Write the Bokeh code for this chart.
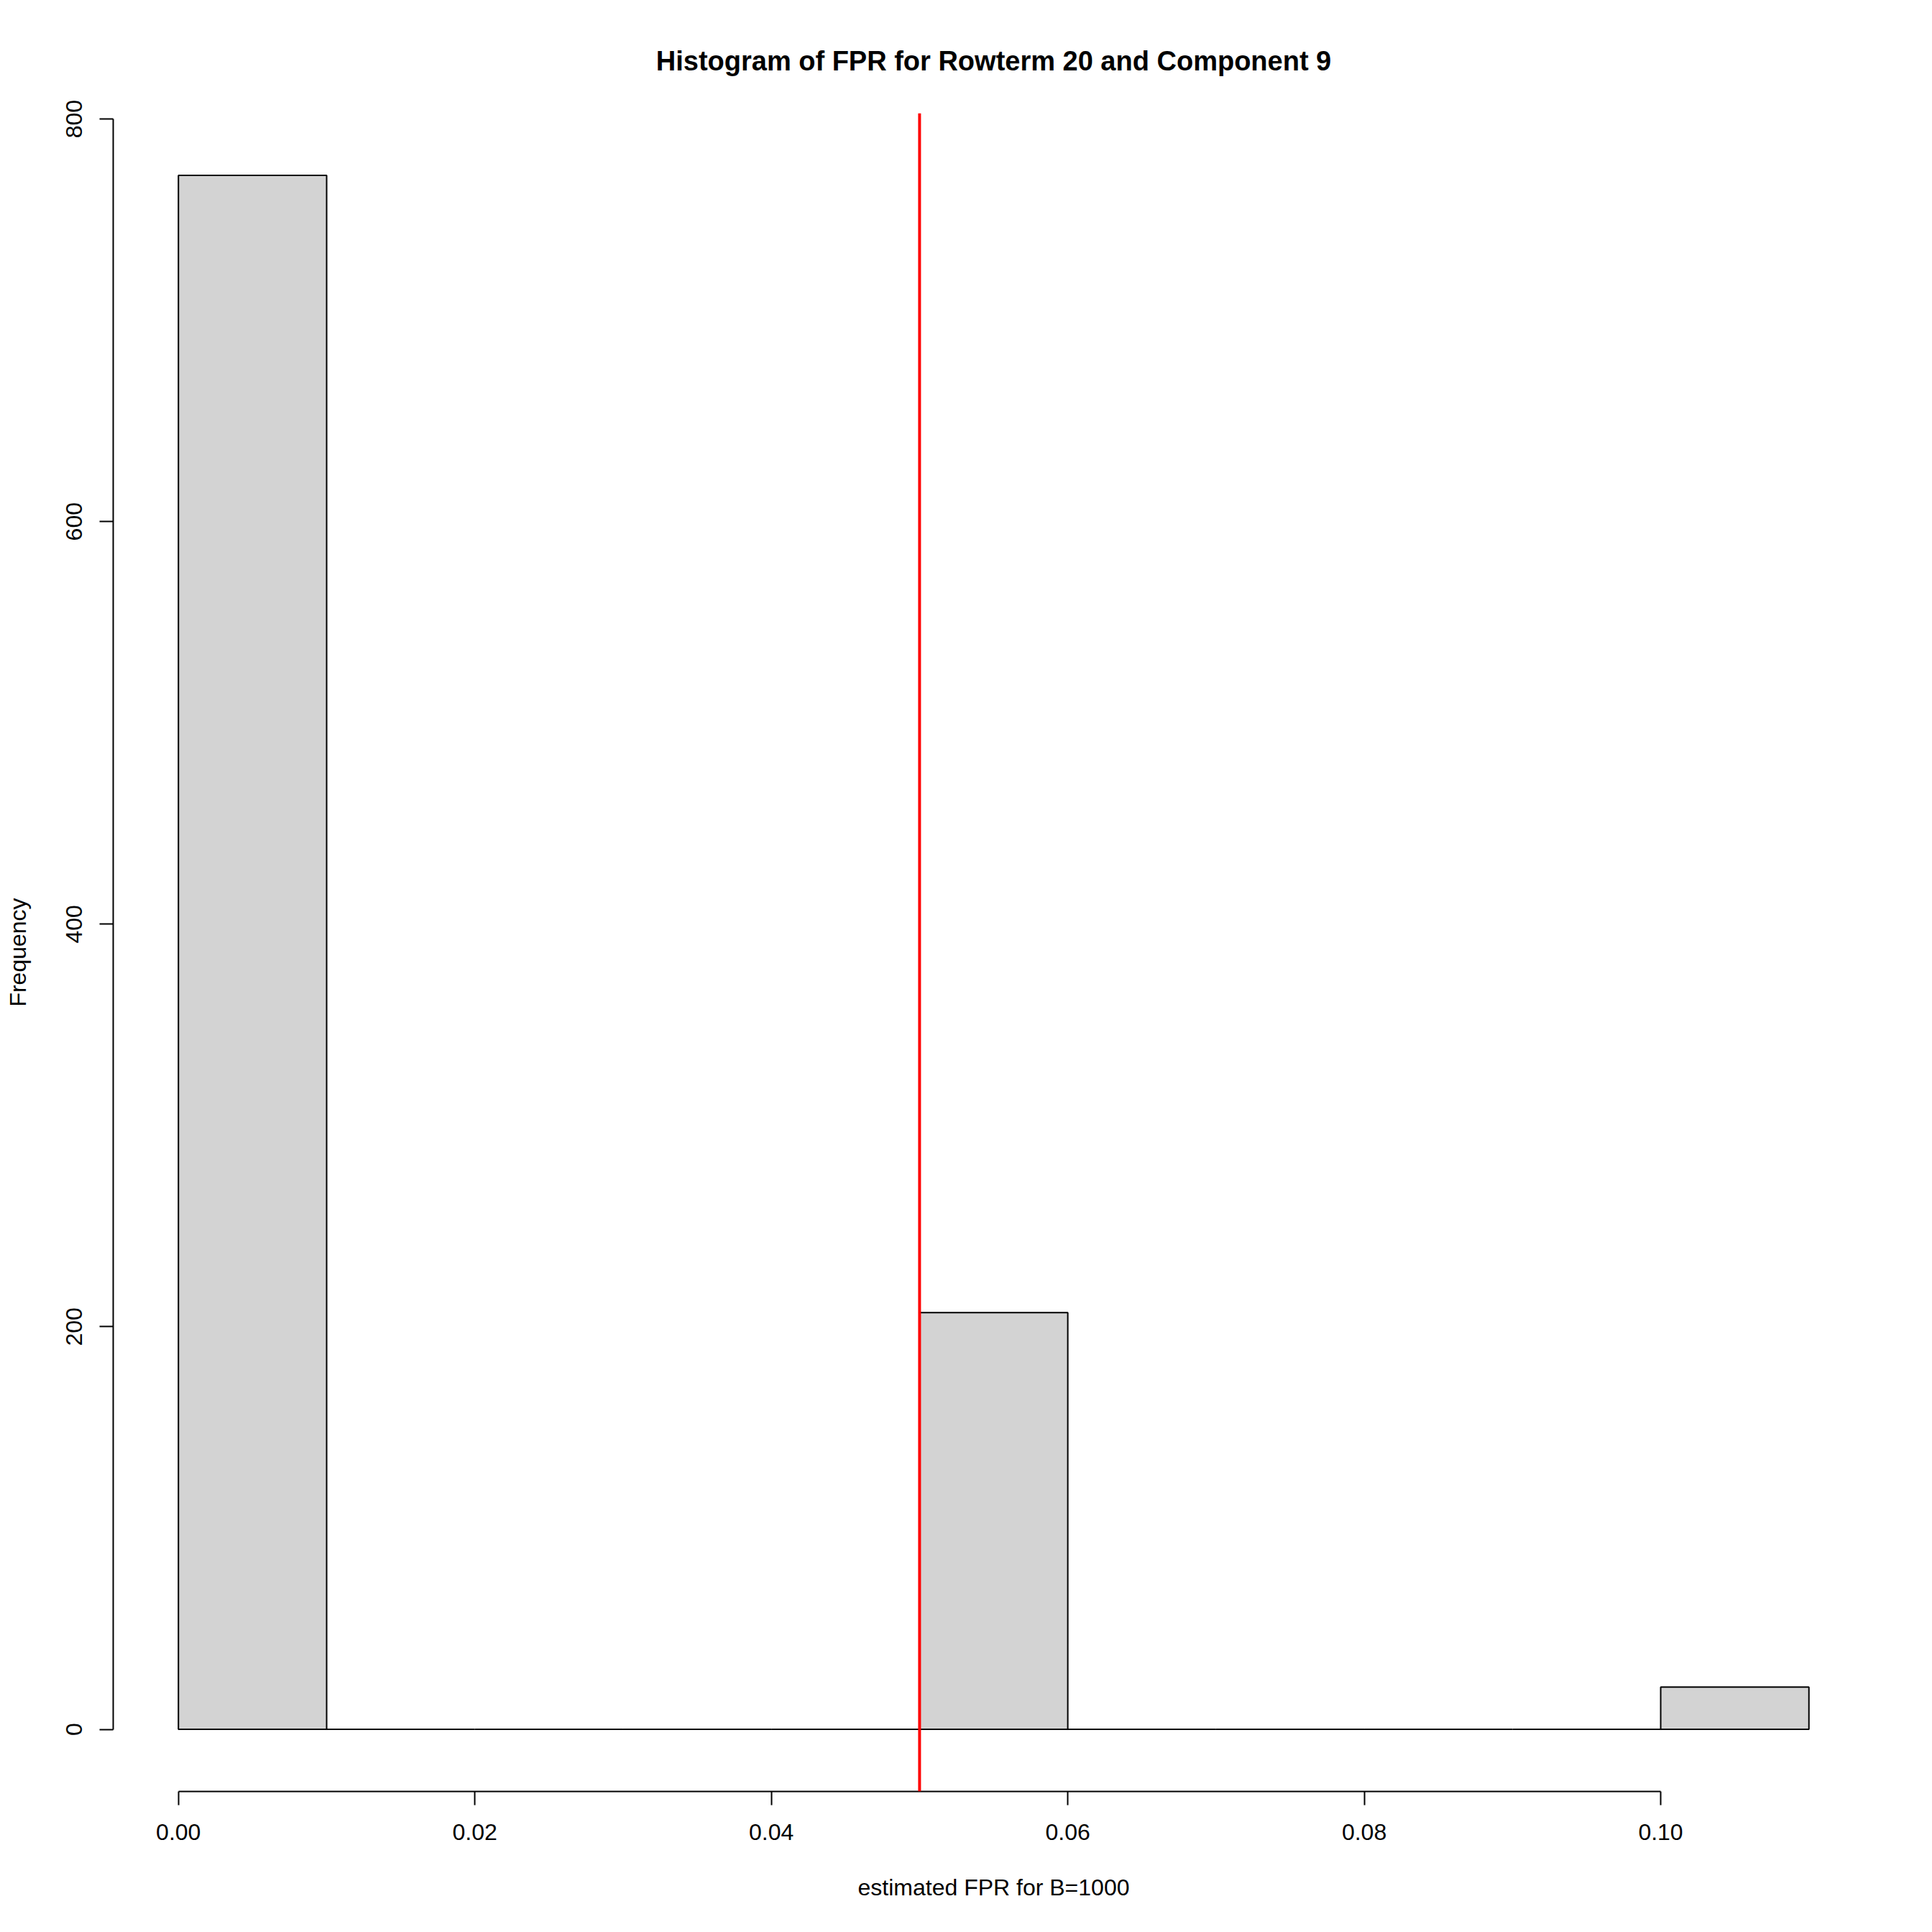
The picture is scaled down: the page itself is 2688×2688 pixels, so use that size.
from bokeh.plotting import figure
from bokeh.models import Span, FixedTicker, NumeralTickFormatter, Title
from bokeh.embed import file_html
from bokeh.resources import INLINE

# Data
bin_edges = [0.00, 0.01, 0.02, 0.03, 0.04, 0.05, 0.06, 0.07, 0.08, 0.09, 0.10, 0.11]
counts = [772, 0, 0, 0, 0, 207, 0, 0, 0, 0, 21]
threshold = 0.05
x_ticks = [0.00, 0.02, 0.04, 0.06, 0.08, 0.10]
y_ticks = [0, 200, 400, 600, 800]
title_text = "Histogram of FPR for Rowterm 20 and Component 9"
x_label = "estimated FPR for B=1000"
y_label = "Frequency"

FONT = "Liberation Sans"

# R-style 4% axis extension
xmin, xmax = bin_edges[0], bin_edges[-1]
ymin, ymax = 0, max(counts)
dx = (xmax - xmin) * 0.04
dy = (ymax - ymin) * 0.04

p = figure(
    width=2672, height=2672,
    x_range=(xmin - dx, xmax + dx),
    y_range=(ymin - dy, ymax + dy),
    output_backend="svg",
    toolbar_location=None,
    min_border_left=157, min_border_right=65,
    min_border_top=157, min_border_bottom=180,
)
p.background_fill_color = "white"
p.border_fill_color = "white"
p.outline_line_color = None
p.xgrid.visible = False
p.ygrid.visible = False

t = Title(text=title_text, align="center", text_font=FONT,
          text_font_size="38px", text_font_style="bold", text_color="black",
          standoff=104)
p.add_layout(t, "above")

p.quad(left=bin_edges[:-1], right=bin_edges[1:], top=counts, bottom=0,
       fill_color="#D3D3D3", line_color="black", line_width=2)

p.add_layout(Span(location=threshold, dimension="height",
                  line_color="red", line_width=4))

for ax in (p.xaxis[0], p.yaxis[0]):
    ax.axis_line_width = 2
    ax.axis_line_color = "black"
    ax.major_tick_line_width = 2
    ax.major_tick_line_color = "black"
    ax.major_tick_in = 0
    ax.major_tick_out = 19
    ax.minor_tick_line_color = None
    ax.major_label_text_font = FONT
    ax.major_label_text_font_size = "32px"
    ax.major_label_text_color = "black"
    ax.axis_label_text_font = FONT
    ax.axis_label_text_font_size = "32px"
    ax.axis_label_text_font_style = "normal"
    ax.axis_label_text_color = "black"

xa = p.xaxis[0]
xa.ticker = FixedTicker(ticks=x_ticks)
xa.formatter = NumeralTickFormatter(format="0.00")
xa.bounds = (x_ticks[0], x_ticks[-1])
xa.axis_label = x_label
xa.major_label_standoff = 26
xa.axis_label_standoff = 45

ya = p.yaxis[0]
ya.ticker = FixedTicker(ticks=y_ticks)
ya.bounds = (y_ticks[0], y_ticks[-1])
ya.axis_label = y_label
ya.major_label_orientation = "vertical"
ya.major_label_standoff = 24
ya.axis_label_standoff = 47

open("out.html", "w").write(file_html(p, INLINE))
